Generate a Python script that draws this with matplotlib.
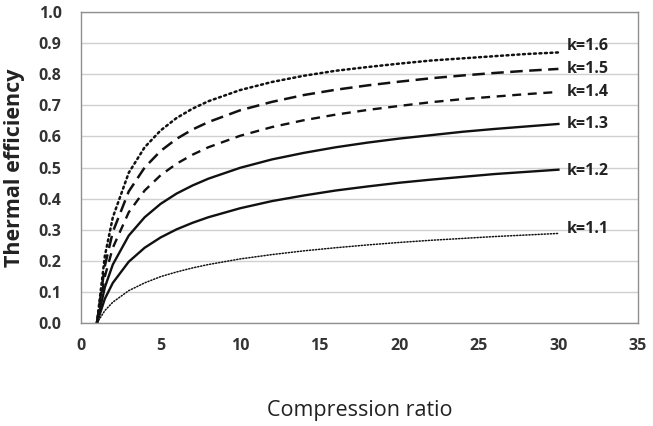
import matplotlib
matplotlib.use('Agg')
import matplotlib.pyplot as plt

# compression ratio samples
ratio = [1, 1.5, 2, 3, 4, 5, 6, 7, 8, 10, 12, 14, 16, 18, 20, 22, 24, 26, 28, 30]

# thermal efficiency
eff_k16 = [0, 0.216, 0.340, 0.483, 0.565, 0.619, 0.659, 0.689, 0.713, 0.749, 0.775,
           0.795, 0.811, 0.823, 0.834, 0.844, 0.851, 0.858, 0.865, 0.870]
eff_k15 = [0, 0.184, 0.293, 0.423, 0.500, 0.553, 0.592, 0.622, 0.646, 0.684, 0.711,
           0.733, 0.750, 0.764, 0.776, 0.787, 0.796, 0.804, 0.811, 0.817]
eff_k14 = [0, 0.150, 0.242, 0.356, 0.426, 0.475, 0.512, 0.541, 0.565, 0.602, 0.630,
           0.652, 0.670, 0.685, 0.698, 0.710, 0.720, 0.728, 0.736, 0.743]
eff_k13 = [0, 0.115, 0.188, 0.281, 0.340, 0.383, 0.416, 0.442, 0.464, 0.499, 0.526,
           0.547, 0.565, 0.580, 0.593, 0.604, 0.615, 0.624, 0.632, 0.640]
eff_k12 = [0, 0.078, 0.129, 0.197, 0.242, 0.275, 0.301, 0.322, 0.340, 0.369, 0.392,
           0.410, 0.426, 0.439, 0.451, 0.461, 0.470, 0.479, 0.486, 0.493]
eff_k11 = [0, 0.040, 0.067, 0.104, 0.129, 0.149, 0.164, 0.177, 0.188, 0.206, 0.220,
           0.232, 0.242, 0.251, 0.259, 0.266, 0.272, 0.278, 0.283, 0.288]

labels = ['k=1.6', 'k=1.5', 'k=1.4', 'k=1.3', 'k=1.2', 'k=1.1']
series = [eff_k16, eff_k15, eff_k14, eff_k13, eff_k12, eff_k11]

styles = [
    dict(lw=1.8, dashes=(0.8, 1.4), dash_capstyle='round'),
    dict(lw=1.8, dashes=(5.0, 2.6)),
    dict(lw=1.7, dashes=(3.8, 2.8)),
    dict(lw=1.7, ls='-'),
    dict(lw=1.7, ls='-'),
    dict(lw=1.1, dashes=(0.8, 1.2), dash_capstyle='round'),
]
label_dy = [0.02, 0.0, 0.0, 0.0, -0.005, 0.013]

plt.rcParams['font.family'] = ['Open Sans', 'DejaVu Sans']

fig = plt.figure(figsize=(6.53, 4.26), dpi=100)
ax = fig.add_axes([81 / 653, 1 - 323 / 426, 557 / 653, 311 / 426])

for y, lab, st, dy in zip(series, labels, styles, label_dy):
    ax.plot(ratio, y, color='#111111', **st)
    ax.text(30.5, y[-1] + dy, lab, fontsize=11.5, fontweight='bold',
            color='#222222', ha='left', va='center')

ax.set_xlim(0, 35)
ax.set_ylim(0, 1.0)
ax.set_xticks(range(0, 36, 5))
ax.set_yticks([i / 10 for i in range(11)])
ax.set_yticklabels([f'{i / 10:.1f}' for i in range(11)])
ax.grid(axis='y', color='#d0d0d0', lw=1.0)
ax.set_axisbelow(True)
for s in ax.spines.values():
    s.set_color('#909090')
    s.set_linewidth(1.0)
ax.tick_params(length=0, labelsize=11.5, colors='#333333')
ax.tick_params(axis='x', pad=11)
ax.tick_params(axis='y', pad=14)
for t in ax.get_xticklabels() + ax.get_yticklabels():
    t.set_fontweight('bold')

ax.set_xlabel('Compression ratio', fontsize=15.5, fontweight='medium', color='#222222', labelpad=33)
ax.set_ylabel('Thermal efficiency', fontsize=15.5, fontweight='bold', color='#222222', labelpad=10)

fig.savefig('out.png', dpi=100, facecolor='white')
